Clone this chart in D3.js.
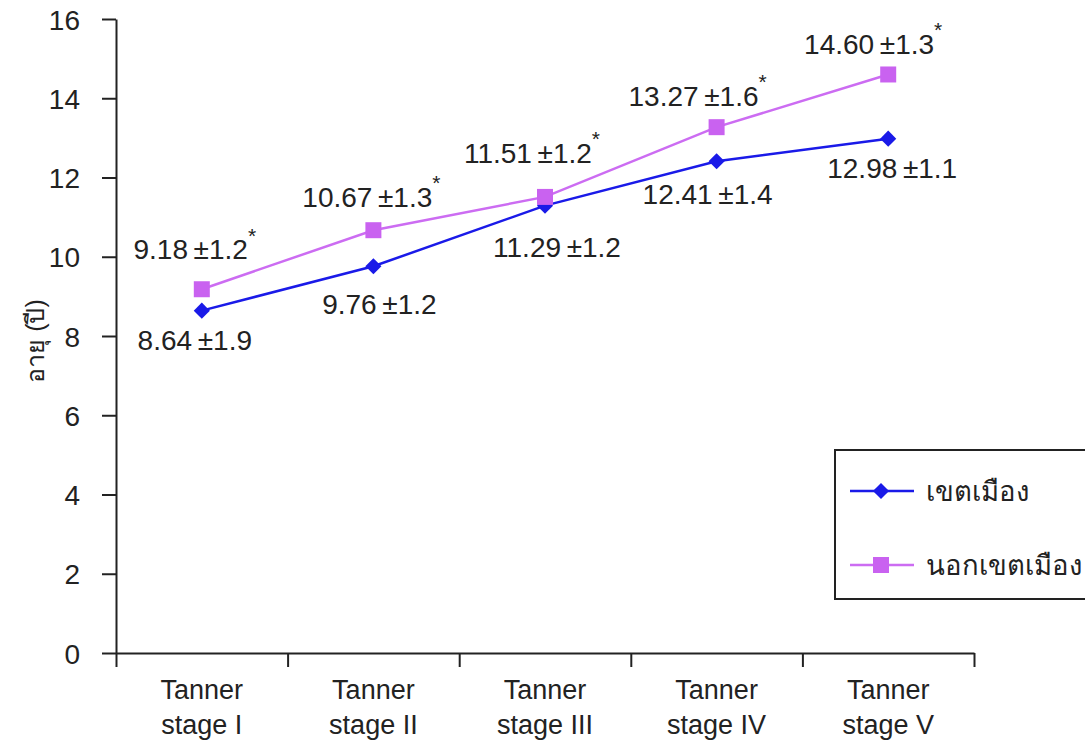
<!DOCTYPE html>
<html>
<head>
<meta charset="utf-8">
<script src="https://cdn.jsdelivr.net/npm/d3@7"></script>
<style>
  body { margin: 0; background: #fff; }
  svg text { font-family: "Liberation Sans", Arial, sans-serif; fill: #222; }
</style>
</head>
<body>
<div id="chart"></div>
<script>
// data
const stages = ['Tanner|stage I', 'Tanner|stage II', 'Tanner|stage III', 'Tanner|stage IV', 'Tanner|stage V'];
const urbanMean = [8.64, 9.76, 11.29, 12.41, 12.98];
const urbanSD = [1.9, 1.2, 1.2, 1.4, 1.1];
const ruralMean = [9.18, 10.67, 11.51, 13.27, 14.60];
const ruralSD = [1.2, 1.3, 1.2, 1.6, 1.3];
const ruralStar = [true, true, true, true, true];
const seriesNames = ['เขตเมือง', 'นอกเขตเมือง'];
const yTicks = [0, 2, 4, 6, 8, 10, 12, 14, 16];

// label nudges (px) relative to each point
const urbanLabelOff = [[-7, 29], [6, 38], [12, 41], [-9, 33], [4, 29]];
const ruralLabelOff = [[-7, -40], [-2, -33], [-13, -44], [-19, -31], [-15, -31]];

const width = 1085, height = 740;
const plotL = 116, plotR = 974, plotT = 19, plotB = 653;
const blue = '#1a1ae8', purple = '#c962f0', purpleLine = '#cc6cf2';

const svg = d3.select('#chart').append('svg')
    .attr('width', width)
    .attr('height', height);

const x = d3.scaleBand().domain(stages).range([plotL, plotR]).padding(0);
const xEdge = d3.scaleLinear().domain([0, stages.length]).range([plotL, plotR]);
const y = d3.scaleLinear().domain([0, 16]).range([plotB, plotT]);

// y axis
const yAxis = d3.axisLeft(y).tickValues(yTicks).tickSize(14).tickSizeOuter(0).tickPadding(22);
const gy = svg.append('g').attr('transform', `translate(${plotL},0)`).call(yAxis);
gy.selectAll('text').attr('font-size', '28px').attr('dy', '0.36em');
gy.selectAll('line, path').attr('stroke', '#222').attr('stroke-width', 2);

// x axis: ticks sit on the category boundaries
const xAxis = d3.axisBottom(xEdge).tickValues(d3.range(stages.length + 1)).tickSize(14).tickSizeOuter(0).tickFormat('');
const gx = svg.append('g').attr('transform', `translate(0,${plotB})`).call(xAxis);
gx.selectAll('line, path').attr('stroke', '#222').attr('stroke-width', 2);

const xl = svg.append('g').selectAll('text').data(stages).join('text')
    .attr('x', d => x(d) + x.bandwidth() / 2)
    .attr('y', 699)
    .attr('text-anchor', 'middle')
    .attr('font-size', '27px');
xl.append('tspan').attr('x', d => x(d) + x.bandwidth() / 2).text(d => d.split('|')[0]);
xl.append('tspan').attr('x', d => x(d) + x.bandwidth() / 2).attr('dy', 35).text(d => d.split('|')[1]);

// y title
svg.append('text')
    .attr('transform', 'translate(44,341) rotate(-90)')
    .attr('text-anchor', 'middle')
    .attr('font-size', '25px')
    .text('อายุ (ปี)');

const cx = i => x(stages[i]) + x.bandwidth() / 2;
const line = d3.line().x((d, i) => cx(i)).y(d => y(d));

svg.append('path').datum(ruralMean)
    .attr('d', line).attr('fill', 'none').attr('stroke', purpleLine).attr('stroke-width', 2.5);
svg.append('path').datum(urbanMean)
    .attr('d', line).attr('fill', 'none').attr('stroke', blue).attr('stroke-width', 2.5);

const diamond = d3.symbol().type(d3.symbolSquare).size(130);
const square = d3.symbol().type(d3.symbolSquare).size(256);

svg.append('g').selectAll('path').data(urbanMean).join('path')
    .attr('d', diamond)
    .attr('transform', (d, i) => `translate(${cx(i)},${y(d)}) rotate(45)`)
    .attr('fill', blue);
svg.append('g').selectAll('path').data(ruralMean).join('path')
    .attr('d', square)
    .attr('transform', (d, i) => `translate(${cx(i)},${y(d)})`)
    .attr('fill', purple);

// value labels
function valueLabels(means, sds, offs, stars) {
  const t = svg.append('g').selectAll('text').data(means).join('text')
      .attr('x', (d, i) => cx(i) + offs[i][0])
      .attr('y', (d, i) => y(d) + offs[i][1])
      .attr('dy', '0.36em')
      .attr('text-anchor', 'middle')
      .attr('font-size', '28px');
  t.append('tspan').text((d, i) => d.toFixed(2) + '\u2009±' + sds[i].toFixed(1));
  if (stars) {
    t.append('tspan').attr('font-size', '21px').attr('dy', '-0.8em')
        .text((d, i) => stars[i] ? '*' : '');
  }
}
valueLabels(urbanMean, urbanSD, urbanLabelOff, null);
valueLabels(ruralMean, ruralSD, ruralLabelOff, ruralStar);

// legend
const lg = svg.append('g');
lg.append('rect').attr('x', 835).attr('y', 450).attr('width', 270).attr('height', 149)
    .attr('fill', '#fff').attr('stroke', '#222').attr('stroke-width', 2);
const legendRows = [
  { name: seriesNames[0], color: blue, sym: diamond, rot: 45, y: 491 },
  { name: seriesNames[1], color: purpleLine, sym: square, rot: 0, y: 565 }
];
const row = lg.selectAll('g.row').data(legendRows).join('g').attr('class', 'row')
    .attr('transform', d => `translate(0,${d.y})`);
row.append('line').attr('x1', 850).attr('x2', 914)
    .attr('stroke', d => d.color).attr('stroke-width', 2.5);
row.append('path').attr('d', d => d.sym())
    .attr('transform', d => `translate(881,0) rotate(${d.rot})`)
    .attr('fill', (d, i) => i ? purple : blue);
row.append('text').attr('x', 926).attr('dy', '0.36em')
    .attr('font-size', '27.5px').text(d => d.name);
</script>
</body>
</html>
